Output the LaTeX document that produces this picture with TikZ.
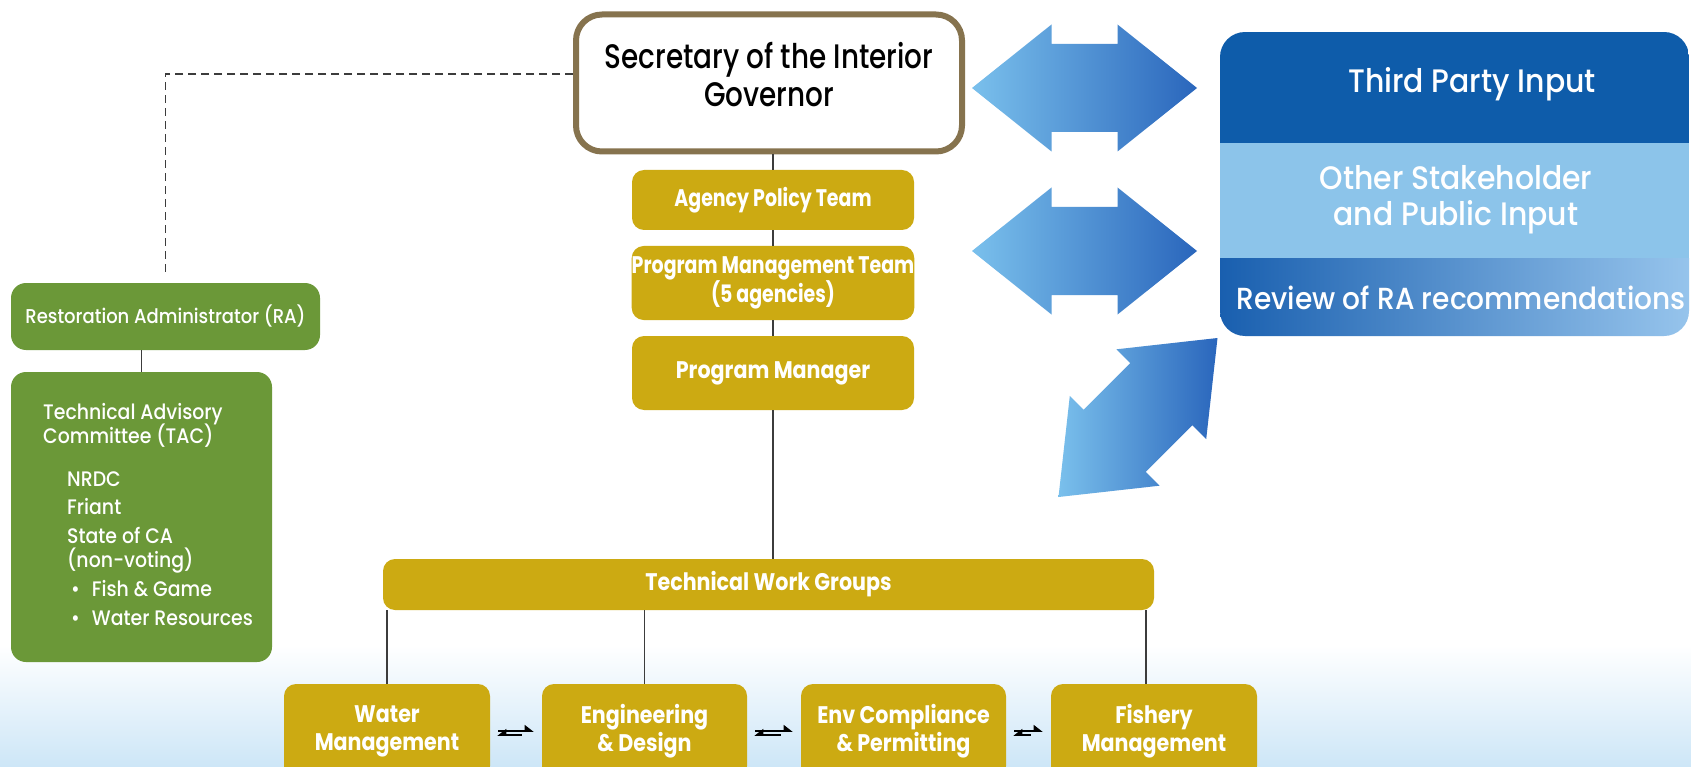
\documentclass[tikz,border=0pt]{standalone}
\usepackage{fontspec}
\setmainfont{Poppins}
\newfontfamily\fcond{Poppins Bold}[FakeStretch=0.86]
\newfontfamily\fcondn{Poppins Bold}[FakeStretch=0.79]
\newfontfamily\fnorm{Poppins Medium}[FakeStretch=0.9]
\newfontfamily\fright{Poppins Medium}[FakeStretch=0.92]
\newfontfamily\fsec{Poppins Medium}[FakeStretch=0.82]
\usetikzlibrary{arrows.meta}
\definecolor{gold}{RGB}{204,170,18}
\definecolor{leaf}{RGB}{107,152,56}
\definecolor{frame}{RGB}{134,115,78}
\definecolor{dblue}{RGB}{14,92,170}
\definecolor{lblue}{RGB}{140,196,234}
\definecolor{rvL}{RGB}{25,95,175}
\definecolor{rvM}{RGB}{112,140,200}
\definecolor{rvR}{RGB}{150,196,236}
\definecolor{arrL}{RGB}{122,192,236}
\definecolor{arrM}{RGB}{146,160,212}
\definecolor{arrR}{RGB}{42,102,188}
\definecolor{lineg}{RGB}{60,60,60}
\definecolor{bgblue}{RGB}{205,230,247}
\tikzset{
  goldbox/.style={fill=gold, rounded corners=12pt, text=white, align=center, inner sep=0pt,
    font=\fcond\fontsize{24}{25}\selectfont},
  botbox/.style={goldbox, minimum width=205pt, minimum height=94pt,
    font=\fcond\fontsize{24}{28}\selectfont},
  greenbox/.style={fill=leaf, rounded corners=15pt, text=white, inner sep=0pt},
  band/.style={inner sep=0pt, minimum width=469pt, text=white, align=center,
    font=\fright\fontsize{30.5}{35}\selectfont},
  conn/.style={draw=lineg, line width=1.5pt},
  harp/.style={draw=black, line width=1.8pt},
  pics/hdarrow/.style={code={
    \shade[left color=arrL, middle color=arrM, right color=arrR]
      (-112.5,0) -- (-33,-63.5) -- (-33,-44) -- (33,-44) -- (33,-63.5) -- (112.5,0)
      -- (33,63.5) -- (33,44) -- (-33,44) -- (-33,63.5) -- cycle;}}
}
\begin{document}
\begin{tikzpicture}[x=1pt,y=-1pt]
\useasboundingbox (0,0) rectangle (1691,767);
\clip (0,0) rectangle (1691,767);
\fill[white] (0,0) rectangle (1691,767);
\shade[top color=white, bottom color=bgblue] (0,645) rectangle (1691,767);

% Secretary
\node[draw=frame, line width=6pt, fill=white, rounded corners=26pt,
  minimum width=386pt, minimum height=137pt, inner sep=0pt] (sec) at (769,83) {};
\node[font=\fsec\fontsize{34}{38}\selectfont, align=center, inner sep=0pt] (sect) at (769,75)
  {Secretary of the Interior\\Governor};

% central column
\node[goldbox, minimum width=282pt, minimum height=60pt, font=\fcondn\fontsize{24}{25}\selectfont] (apt) at (773,200) {Agency Policy Team};
\node[goldbox, minimum width=282pt, minimum height=74pt, font=\fcondn\fontsize{24}{25}\selectfont] (pmt) at (773,283) {Program Management Team\\(5 agencies)};
\node[goldbox, minimum width=282pt, minimum height=74pt] (pm) at (773,373) {Program Manager};
\node[goldbox, minimum width=771pt, minimum height=51pt] (twg) at (768.5,584.5) {Technical Work Groups};

\node[botbox, minimum width=206pt] (wm) at (387,731) {Water\\Management};
\node[botbox] (ed) at (644.5,731) {Engineering\\\& Design};
\node[botbox] (ec) at (903.5,731) {Env Compliance\\\& Permitting};
\node[botbox, minimum width=206pt] (fm) at (1154,731) {Fishery\\Management};

\draw[conn] (apt.north |- sec.south) -- (apt.north);
\draw[conn] (apt.south) -- (pmt.north);
\draw[conn] (pmt.south) -- (pm.north);
\draw[conn] (pm.south) -- (twg.north -| pm.south);
\draw[conn] (wm.north) -- (wm.north |- twg.south);
\draw[conn] (ed.north) -- (ed.north |- twg.south);
\draw[conn] ([xshift=-8pt]fm.north) -- ([xshift=-8pt]fm.north |- twg.south);

\foreach \a/\b in {wm/ed, ed/ec, ec/fm}{
  \draw[harp, -{Triangle[harpoon, length=8pt, width=12pt]}, shorten <=8pt, shorten >=8pt]
    ([yshift=0pt]\a.east) -- ([yshift=0pt]\b.west);
  \draw[harp, {Triangle[harpoon, swap, length=8pt, width=12pt]}-, shorten <=7pt, shorten >=20pt]
    ([yshift=-4pt]\a.east) -- ([yshift=-4pt]\b.west);
}

% left green
\node[greenbox, minimum width=309pt, minimum height=67pt,
  font=\fnorm\fontsize{20}{24}\selectfont] (ra) at (165.5,316.5) {Restoration Administrator (RA)};
\node[greenbox, minimum width=261pt, minimum height=290pt] (tac) at (141.5,517) {};
\node[anchor=north west, inner sep=0pt, align=left, text=white,
  font=\fnorm\fontsize{21}{28.5}\selectfont] (tact) at (43,403)
  {Technical Advisory\\[-4.5pt]
   Committee (TAC)\\[14.5pt]
   \hspace*{24pt}NRDC\\
   \hspace*{24pt}Friant\\[0.5pt]
   \hspace*{24pt}State of CA\\[-4.5pt]
   \hspace*{24pt}(non-voting)\\[0.5pt]
   \hspace*{28pt}\textbullet\hspace{12pt}Fish \& Game\\
   \hspace*{28pt}\textbullet\hspace{12pt}Water Resources};
\draw[conn] (tac.north) -- (tac.north |- ra.south);
\draw[conn, dashed, dash pattern=on 8pt off 5pt, shorten >=10pt]
  ([yshift=9pt]sec.west) -| (ra.north);

% right panel
\begin{scope}
\clip[rounded corners=25pt] (1220,32) rectangle (1689,336);
\node[band, fill=dblue, minimum height=111pt] (tp) at (1454.5,87.5) {};
\node[band, fill=lblue, minimum height=116pt] (os) at (1454.5,201) {};
\node[band, left color=rvL, middle color=rvM, right color=rvR, minimum height=77pt] (rv) at (1454.5,297.5) {};
\end{scope}
\node[band, minimum width=0pt, font=\fright\fontsize{32.5}{36}\selectfont] (tpt) at (1472,84) {Third Party Input};
\node[band, minimum width=0pt, font=\fright\fontsize{32.5}{36}\selectfont] (ost) at (1456,200) {Other Stakeholder\\and Public Input};
\node[band, minimum width=0pt] (rvt) at (1461,298) {Review of RA recommendations};

% big arrows
\pic at (1084.5,88) {hdarrow};
\pic at (1084.5,251) {hdarrow};
\shade[shading angle=45, left color=arrL, middle color=arrM, right color=arrR]
  (1058.5,497) -- (1069.8,395.9) -- (1083.6,409.7) -- (1130.2,363.1) -- (1116.4,349.3)
  -- (1217.5,338) -- (1206.2,439.1) -- (1192.4,425.3) -- (1145.8,471.9) -- (1159.6,485.7) -- cycle;
\end{tikzpicture}
\end{document}
